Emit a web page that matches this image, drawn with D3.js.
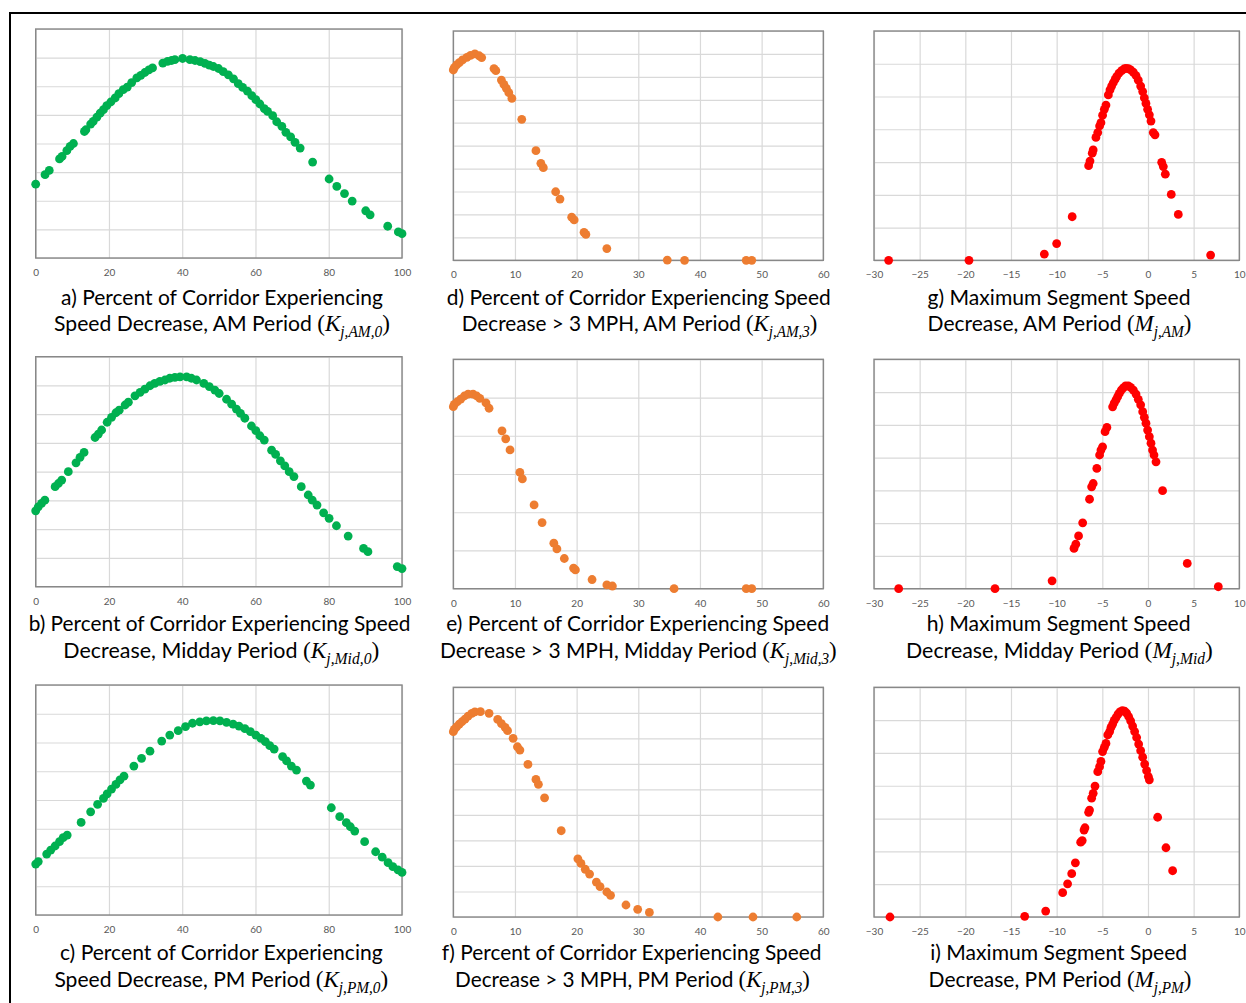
<!DOCTYPE html>
<html lang="en">
<head>
<meta charset="UTF-8">
<title>Speed decrease distributions</title>
<script src="https://d3js.org/d3.v7.min.js"></script>
<style>
  body { margin: 0; background: #fff; }
  .tick-label { font-family: Lato, "Open Sans", sans-serif; font-size: 10px; fill: #595959; }
  .cap { font-family: Lato, "Open Sans", sans-serif; font-size: 22px; fill: #000; }
  .math { font-family: "Liberation Serif", "DejaVu Serif", serif; font-style: italic; }
  .paren { font-family: "Liberation Serif", "DejaVu Serif", serif; }
</style>
</head>
<body>
<svg id="fig" width="1246" height="1003"></svg>
<script>
// ---- data (y values are in grid units, the y axes have no labels) ----
const pctTicks = [0, 20, 40, 60, 80, 100];
const pct3Ticks = [0, 10, 20, 30, 40, 50, 60];
const speedTicks = [-30, -25, -20, -15, -10, -5, 0, 5, 10];

// a) K j,AM,0
const kAm0 = [[0,2.58],[2.55,2.91],[3.7,3.06],[6.5,3.46],[7.2,3.55],[8.5,3.75],[9.4,3.9],[10.3,4.0],[13.3,4.42],[13.7,4.48],[15.0,4.68],[15.7,4.77],[16.7,4.92],[17.6,5.06],[18.5,5.18],[19.4,5.32],[20.5,5.45],[21.7,5.59],[22.7,5.74],[23.9,5.88],[25.0,5.97],[26.2,6.13],[27.6,6.29],[28.7,6.38],[29.8,6.48],[30.9,6.57],[31.9,6.64],[34.7,6.81],[36.0,6.87],[37.1,6.9],[38.0,6.93],[40.1,6.97],[42.1,6.93],[43.5,6.9],[44.9,6.86],[46.2,6.8],[47.4,6.74],[48.5,6.69],[49.9,6.62],[51.2,6.51],[52.6,6.4],[54.0,6.26],[55.3,6.09],[56.5,5.96],[57.8,5.83],[59.0,5.67],[60.1,5.53],[61.2,5.38],[62.4,5.22],[63.3,5.12],[64.7,4.97],[65.8,4.76],[67.2,4.6],[68.3,4.39],[69.6,4.23],[70.8,4.04],[72.2,3.84],[75.6,3.35],[80.1,2.76],[82.2,2.5],[84.3,2.25],[86.4,1.99],[90.1,1.65],[91.3,1.51],[96.1,1.11],[99.0,0.91],[100,0.85]];
// b) K j,Mid,0
const kMid0 = [[0,2.64],[0.7,2.78],[1.6,2.9],[2.5,3.01],[5.3,3.48],[6.2,3.59],[7.1,3.71],[8.9,4.0],[11.0,4.31],[12.1,4.5],[13.2,4.67],[16.2,5.19],[17.1,5.31],[18.0,5.45],[19.5,5.72],[20.7,5.89],[21.9,6.05],[22.8,6.14],[24.4,6.32],[25.3,6.42],[27.1,6.64],[28.5,6.76],[29.8,6.87],[31.2,6.99],[32.5,7.07],[33.9,7.14],[35.3,7.19],[36.6,7.25],[38.0,7.28],[39.4,7.3],[41.2,7.3],[42.5,7.25],[43.9,7.19],[45.9,7.07],[47.4,6.96],[48.9,6.84],[50.1,6.72],[52.1,6.52],[53.5,6.35],[54.8,6.18],[55.9,6.03],[57.1,5.86],[58.9,5.59],[60.1,5.43],[61.2,5.25],[62.4,5.1],[64.4,4.75],[65.5,4.6],[66.8,4.38],[68.0,4.2],[69.2,4.0],[70.5,3.83],[72.5,3.48],[74.4,3.19],[75.5,3.01],[76.8,2.84],[78.6,2.57],[80.1,2.38],[82.1,2.12],[85.3,1.76],[89.5,1.33],[90.7,1.22],[98.7,0.7],[100,0.63]];
// c) K j,PM,0
const kPm0 = [[0,1.77],[0.7,1.86],[3.0,2.12],[4.1,2.26],[5.3,2.4],[6.5,2.55],[7.5,2.69],[8.6,2.78],[12.4,3.22],[15.0,3.59],[16.9,3.85],[18.5,4.06],[19.5,4.21],[20.7,4.38],[21.9,4.54],[23.0,4.7],[24.1,4.83],[26.8,5.18],[28.9,5.45],[31.2,5.7],[34.4,6.05],[36.6,6.26],[38.9,6.41],[40.9,6.55],[42.8,6.67],[44.8,6.72],[46.6,6.75],[48.5,6.76],[50.3,6.75],[52.1,6.7],[53.9,6.64],[55.5,6.57],[57.1,6.48],[58.6,6.38],[60.1,6.26],[61.5,6.14],[62.7,6.03],[63.9,5.89],[65.1,5.77],[67.4,5.51],[68.5,5.36],[69.8,5.18],[71.2,5.04],[73.9,4.66],[75.0,4.52],[80.7,3.73],[83.0,3.42],[84.8,3.21],[85.9,3.07],[87.1,2.92],[89.8,2.55],[92.8,2.2],[94.6,2.01],[96.2,1.82],[97.5,1.68],[98.9,1.57],[100,1.48]];
// d) K j,AM,3
const kAm3 = [[0,8.3],[0.16,8.4],[0.54,8.52],[0.97,8.62],[1.5,8.74],[2.2,8.85],[2.8,8.94],[3.5,9.0],[4.2,8.92],[4.6,8.84],[6.6,8.36],[6.9,8.27],[7.8,7.86],[8.2,7.67],[8.6,7.5],[9.0,7.31],[9.5,7.06],[11.1,6.15],[13.4,4.78],[14.2,4.23],[14.6,4.04],[16.6,2.99],[17.3,2.67],[19.2,1.88],[19.6,1.76],[21.2,1.22],[21.5,1.13],[24.9,0.51],[34.7,0.01],[37.5,0],[47.5,0],[48.4,0]];
// e) K j,Mid,3
const kMid3 = [[0,4.76],[0.16,4.82],[0.65,4.89],[1.2,4.96],[1.8,5.04],[2.4,5.09],[3.2,5.09],[3.8,5.04],[4.3,4.98],[5.3,4.86],[5.8,4.72],[7.9,4.13],[8.5,3.92],[9.2,3.63],[10.8,3.04],[11.2,2.87],[13.1,2.19],[14.4,1.73],[16.3,1.19],[16.8,1.04],[18.0,0.79],[19.5,0.54],[19.8,0.49],[22.5,0.24],[24.9,0.1],[25.8,0.07],[35.8,0],[47.5,0],[48.4,0]];
// f) K j,PM,3
const kPm3 = [[0,7.26],[0.16,7.35],[0.54,7.45],[0.97,7.56],[1.4,7.65],[1.9,7.75],[2.4,7.87],[3.0,7.98],[3.5,8.04],[4.4,8.05],[5.8,7.98],[7.2,7.74],[7.8,7.58],[8.4,7.43],[8.8,7.3],[9.7,7.0],[10.4,6.67],[10.8,6.54],[12.1,5.98],[13.4,5.39],[13.8,5.2],[14.8,4.67],[17.5,3.38],[20.2,2.28],[20.7,2.1],[21.4,1.87],[22.1,1.68],[23.2,1.37],[23.8,1.19],[24.9,0.98],[25.5,0.85],[28.0,0.47],[29.9,0.3],[31.8,0.18],[42.9,0],[48.6,0],[55.7,0]];
// g) M j,AM
const mAm = [[-28.4,0],[-19.6,0],[-11.35,0.19],[-10.0,0.51],[-8.3,1.33],[-6.5,2.89],[-6.35,3.03],[-6.1,3.27],[-6.0,3.37],[-5.7,3.75],[-5.5,3.9],[-5.3,4.1],[-5.15,4.2],[-4.97,4.43],[-4.78,4.61],[-4.6,4.74],[-4.34,5.05],[-4.16,5.2],[-3.98,5.32],[-3.8,5.42],[-3.6,5.52],[-3.43,5.61],[-3.18,5.71],[-2.88,5.79],[-2.63,5.84],[-2.41,5.86],[-2.15,5.85],[-1.9,5.81],[-1.6,5.74],[-1.31,5.64],[-1.06,5.5],[-0.8,5.32],[-0.58,5.15],[-0.4,4.96],[-0.22,4.79],[-0.04,4.61],[0.15,4.44],[0.33,4.25],[0.58,3.9],[0.77,3.83],[1.5,2.99],[1.68,2.86],[1.9,2.63],[2.55,2.01],[3.32,1.4],[6.86,0.16]];
// h) M j,Mid
const mMid = [[-27.3,0],[-16.75,0],[-10.5,0.24],[-8.1,1.23],[-7.9,1.36],[-7.6,1.61],[-7.15,2.01],[-6.4,2.73],[-6.17,3.11],[-6.0,3.21],[-5.6,3.67],[-5.3,4.08],[-5.15,4.23],[-4.97,4.33],[-4.7,4.79],[-4.5,4.92],[-3.87,5.55],[-3.7,5.66],[-3.5,5.76],[-3.32,5.86],[-3.14,5.96],[-2.92,6.06],[-2.7,6.13],[-2.45,6.19],[-2.15,6.19],[-1.9,6.14],[-1.6,6.06],[-1.31,5.94],[-1.06,5.78],[-0.8,5.61],[-0.58,5.4],[-0.4,5.23],[-0.22,5.05],[-0.04,4.84],[0.15,4.64],[0.33,4.44],[0.5,4.23],[0.66,4.08],[0.88,3.87],[1.6,2.99],[4.3,0.77],[7.7,0.06]];
// i) M j,PM
const mPm = [[-28.25,0],[-13.5,0.02],[-11.2,0.18],[-9.34,0.74],[-8.8,1.01],[-8.35,1.32],[-7.95,1.65],[-7.37,2.28],[-7.2,2.33],[-7.0,2.65],[-6.9,2.72],[-6.5,3.19],[-6.4,3.26],[-6.17,3.62],[-6.0,3.77],[-5.8,3.99],[-5.5,4.43],[-5.3,4.58],[-5.15,4.74],[-4.97,5.04],[-4.78,5.17],[-4.6,5.29],[-4.4,5.55],[-4.2,5.65],[-4.05,5.78],[-3.87,5.88],[-3.7,5.99],[-3.5,6.08],[-3.28,6.18],[-3.07,6.25],[-2.8,6.29],[-2.55,6.27],[-2.34,6.21],[-2.12,6.11],[-1.9,5.98],[-1.68,5.82],[-1.46,5.65],[-1.24,5.47],[-1.02,5.27],[-0.8,5.07],[-0.58,4.87],[-0.36,4.66],[-0.15,4.46],[0.04,4.28],[0.15,4.18],[1.06,3.04],[1.97,2.11],[2.7,1.41]];

const capTop = [
  "a) Percent of Corridor Experiencing", "d) Percent of Corridor Experiencing Speed", "g) Maximum Segment Speed",
  "b) Percent of Corridor Experiencing Speed", "e) Percent of Corridor Experiencing Speed", "h) Maximum Segment Speed",
  "c) Percent of Corridor Experiencing", "f) Percent of Corridor Experiencing Speed", "i) Maximum Segment Speed"
];
const capBottom = [
  "Speed Decrease, AM Period ", "Decrease > 3 MPH, AM Period ", "Decrease, AM Period ",
  "Decrease, Midday Period ", "Decrease > 3 MPH, Midday Period ", "Decrease, Midday Period ",
  "Speed Decrease, PM Period ", "Decrease > 3 MPH, PM Period ", "Decrease, PM Period "
];
const capSymbol = ["K", "K", "M", "K", "K", "M", "K", "K", "M"];
const capSub = ["j,AM,0", "j,AM,3", "j,AM", "j,Mid,0", "j,Mid,3", "j,Mid", "j,PM,0", "j,PM,3", "j,PM"];

// ---- layout ----
const green = "#00b050", orange = "#ed7d31", red = "#ff0000";
const panels = [
  { data: kAm0,  ticks: pctTicks,   yDiv: 8,  color: green,  box: [35.7, 29, 402, 258] },
  { data: kAm3,  ticks: pct3Ticks,  yDiv: 10, color: orange, box: [453.3, 31, 823.3, 260.3] },
  { data: mAm,   ticks: speedTicks, yDiv: 7,  color: red,    box: [874, 31, 1239.3, 260.3] },
  { data: kMid0, ticks: pctTicks,   yDiv: 8,  color: green,  box: [35.7, 356.7, 402, 586.7] },
  { data: kMid3, ticks: pct3Ticks,  yDiv: 6,  color: orange, box: [453.3, 359.3, 823.3, 588.7] },
  { data: mMid,  ticks: speedTicks, yDiv: 7,  color: red,    box: [874, 359.3, 1239.3, 588.7] },
  { data: kPm0,  ticks: pctTicks,   yDiv: 8,  color: green,  box: [35.7, 685, 402, 915] },
  { data: kPm3,  ticks: pct3Ticks,  yDiv: 9,  color: orange, box: [453.3, 687.3, 823.3, 917] },
  { data: mPm,   ticks: speedTicks, yDiv: 7,  color: red,    box: [874, 687.3, 1239.3, 917] }
];
// caption geometry: [center1, width1, center2, width2]
const capGeom = [
  [222, 322, 222, 336], [638.7, 384, 639.5, 356], [1059, 263, 1059.5, 264],
  [219.5, 382, 221.3, 316], [637.7, 383, 638.3, 397], [1058.7, 264, 1059.4, 307],
  [221.3, 323, 221.3, 334], [631.7, 380, 632.5, 355], [1058.7, 257, 1060, 263]
];
const capBase = [[305, 331], [631, 658], [960, 987]];

const svg = d3.select("#fig");
svg.append("rect").attr("width", 1246).attr("height", 1003).attr("fill", "#fff");

// outer frame
svg.append("path")
  .attr("d", "M10,1003V13H1246")
  .attr("fill", "none").attr("stroke", "#000").attr("stroke-width", 2);

panels.forEach((p, i) => {
  const [x0, y0, x1, y1] = p.box;
  const x = d3.scaleLinear().domain(d3.extent(p.ticks)).range([x0, x1]);
  const y = d3.scaleLinear().domain([0, p.yDiv]).range([y1, y0]);
  const g = svg.append("g");

  // horizontal gridlines
  const gy = g.append("g")
    .attr("transform", `translate(${x0},0)`)
    .call(d3.axisLeft(y).tickValues(d3.range(0, p.yDiv + 1)).tickSize(-(x1 - x0)).tickFormat(""));
  gy.select(".domain").remove();
  gy.selectAll("line").attr("stroke", "#d9d9d9").attr("stroke-width", 1.2);

  // vertical gridlines + tick labels
  const gx = g.append("g")
    .attr("transform", `translate(0,${y1})`)
    .call(d3.axisBottom(x).tickValues(p.ticks).tickSize(-(y1 - y0)).tickPadding(11));
  gx.select(".domain").remove();
  gx.selectAll("line").attr("stroke", "#d9d9d9").attr("stroke-width", 1.2);
  gx.selectAll("text").attr("class", "tick-label").attr("fill", null);

  // plot border
  g.append("rect")
    .attr("x", x0).attr("y", y0).attr("width", x1 - x0).attr("height", y1 - y0)
    .attr("fill", "none").attr("stroke", "#888").attr("stroke-width", 1.4);

  g.selectAll("circle").data(p.data).join("circle")
    .attr("cx", d => x(d[0]))
    .attr("cy", d => y(d[1]))
    .attr("r", 4.4)
    .attr("fill", p.color);

  // caption
  const row = Math.floor(i / 3);
  const [c1, w1, c2, w2] = capGeom[i];
  const line1 = svg.append("g").attr("transform", `translate(${c1},${capBase[row][0]})`);
  const t1 = line1.append("text").attr("class", "cap").attr("text-anchor", "middle").text(capTop[i]);
  const b1 = t1.node().getBBox().width;
  t1.attr("transform", `scale(${w1 / b1},1)`);

  const line2 = svg.append("g").attr("transform", `translate(${c2},${capBase[row][1]})`);
  const t2 = line2.append("text").attr("class", "cap").attr("text-anchor", "middle");
  t2.append("tspan").text(capBottom[i]);
  t2.append("tspan").attr("class", "paren").style("font-size", "24px").text("(");
  t2.append("tspan").attr("class", "math").style("font-size", "24px").text(capSymbol[i]);
  t2.append("tspan").attr("class", "math").style("font-size", "16px").attr("dy", 6).text(capSub[i]);
  t2.append("tspan").attr("class", "paren").style("font-size", "24px").attr("dy", -6).text(")");
  const b2 = t2.node().getBBox().width;
  t2.attr("transform", `scale(${w2 / b2},1)`);
});
</script>
</body>
</html>
